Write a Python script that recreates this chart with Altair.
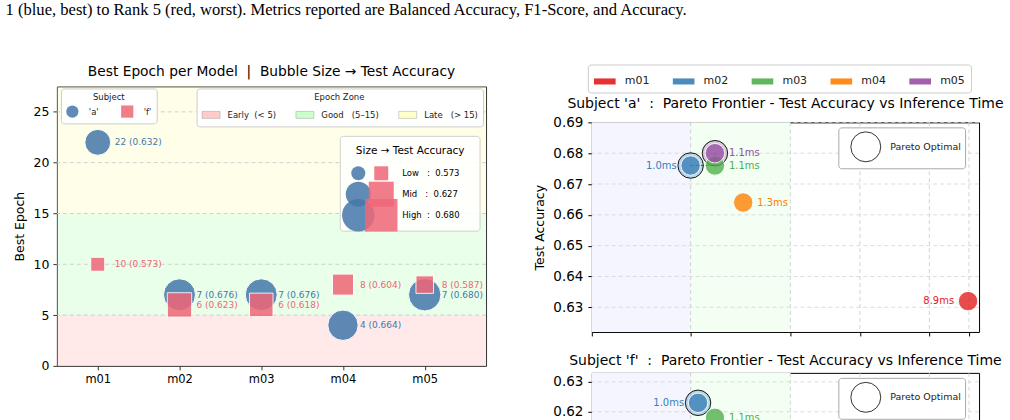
import json
import altair as alt
import pandas as pd

# ---------------- data ----------------
caption = ("1 (blue, best) to Rank 5 (red, worst). Metrics reported are "
           "Balanced Accuracy, F1-Score, and Accuracy.")
models = ["m01", "m02", "m03", "m04", "m05"]
subject_labels = ["'a'", "'f'"]

# best epoch and test accuracy per model
epoch_a = [22, 7, 7, 4, 7]
acc_a = [0.632, 0.676, 0.676, 0.664, 0.680]
epoch_f = [10, 6, 6, 8, 8]
acc_f = [0.573, 0.623, 0.618, 0.604, 0.587]

# inference time (ms)
time_a = [8.9, 1.0, 1.14, 1.34, 1.14]
time_f = [8.9, 1.04, 1.14, 1.3, 1.12]

epoch_ticks = [0, 5, 10, 15, 20, 25]
NB = "\u00a0"
zone_labels = ["Early" + NB * 2 + "(< 5)", "Good" + NB * 3 + "(5–15)", "Late" + NB * 3 + "(> 15)"]
zone_lo = [0, 5, 15]
zone_hi = [5, 15, 27.5]

size_names = ["Low", "Mid", "High"]
size_vals = [0.573, 0.627, 0.680]

time_domain = [0.624, 10.26]
time_zone_names = ["fast", "mid"]
time_zone_lo = [0.624, 1.0]
time_zone_hi = [1.0, 1.8]
time_grid = [1.0, 1.8, 3.0, 5.7, 9.0]
acc_ticks_a = [0.63, 0.64, 0.65, 0.66, 0.67, 0.68, 0.69]
acc_ticks_f = [0.57, 0.58, 0.59, 0.60, 0.61, 0.62, 0.63]

# ---------------- styles ----------------
SUBJ_COLORS = ["#4477AA", "#EE6677"]
ZONE_COLORS = ["#ff9999", "#99ff99", "#ffff99"]
MODEL_COLORS = ["#e41a1c", "#377eb8", "#4daf4a", "#ff7f00", "#984ea3"]
TZONE_COLORS = ["#f5f5ff", "#f2fff2"]

# ---------------- left chart ----------------
x_left = alt.Scale(domain=[-0.5, 4.75], nice=False, zero=False)
y_left = alt.Scale(domain=[0, 27.5], nice=False, zero=False)
size_scale = alt.Scale(domain=[0.573, 0.680], range=[196, 1056], zero=False, nice=False)

x_axis_left = alt.Axis(values=list(range(len(models))), labelExpr=json.dumps(models) + "[datum.value]",
                       title=None, grid=False, domain=False, tickSize=4, labelFontSize=11.5,
                       labelPadding=4, tickColor="#333333")
y_axis_left = alt.Axis(values=epoch_ticks, title="Best Epoch", grid=False, domain=False, tickSize=4,
                       labelFontSize=12.5, titleFontSize=12.5, titleFontWeight="normal",
                       titlePadding=7, tickColor="#333333", labelPadding=4)

pts = pd.DataFrame({
    "model": models * 2,
    "idx": list(range(len(models))) * 2,
    "subject": [subject_labels[0]] * 5 + [subject_labels[1]] * 5,
    "epoch": epoch_a + epoch_f,
    "acc": acc_a + acc_f,
})
pts["label"] = [f"{e} ({a:.3f})" for e, a in zip(pts["epoch"], pts["acc"])]

subj_legend = alt.Legend(title="Subject", orient="none", legendX=4, legendY=8, direction="horizontal",
                         titleAnchor="middle", titleFontSize=8.5, titleFontWeight="normal", titlePadding=3,
                         labelFontSize=8.5, symbolSize=150, labelOffset=10, columnPadding=22, padding=5,
                         fillColor="white", strokeColor="#cccccc", cornerRadius=3, symbolStrokeWidth=0,
                         symbolOpacity=0.85)
zone_legend = alt.Legend(title="Epoch Zone", orient="none", legendX=140, legendY=8, direction="horizontal",
                         titleAnchor="middle", titleFontSize=8.5, titleFontWeight="normal", titlePadding=3,
                         labelFontSize=8.5, symbolType="M-1,-0.39H1V0.39H-1Z", symbolSize=324,
                         symbolOpacity=0.5, symbolStrokeColor="rgba(0,0,0,0.35)", symbolStrokeWidth=1,
                         labelOffset=7, columnPadding=17, padding=5, fillColor="white",
                         strokeColor="#cccccc", cornerRadius=3)

subj_color = alt.Color("subject:N", scale=alt.Scale(domain=subject_labels, range=SUBJ_COLORS), legend=subj_legend)
subj_shape = alt.Shape("subject:N", scale=alt.Scale(domain=subject_labels, range=["circle", "square"]),
                       legend=subj_legend)

zone_df = pd.DataFrame({"zone": zone_labels, "lo": zone_lo, "hi": zone_hi})
bands = alt.Chart(zone_df).mark_rect(opacity=0.22).encode(
    x=alt.value(0), x2=alt.value("width"),
    y=alt.Y("lo:Q", scale=y_left, axis=y_axis_left), y2="hi:Q",
    fill=alt.Fill("zone:N", scale=alt.Scale(domain=zone_labels, range=ZONE_COLORS), legend=zone_legend),
)
grid_left = alt.Chart(pd.DataFrame({"yt": epoch_ticks[1:]})).mark_rule(
    color="#c4c4c4", strokeDash=[4, 3], strokeWidth=0.8).encode(
    y=alt.Y("yt:Q", scale=y_left, axis=y_axis_left))
points = alt.Chart(pts).mark_point(filled=True, opacity=0.85, stroke="white", strokeWidth=1).encode(
    x=alt.X("idx:Q", scale=x_left, axis=x_axis_left),
    y=alt.Y("epoch:Q", scale=y_left, axis=y_axis_left),
    color=subj_color, shape=subj_shape,
    size=alt.Size("acc:Q", scale=size_scale, legend=None),
)
labels_left = alt.Chart(pts).mark_text(align="left", baseline="middle", dx=17, fontSize=9).encode(
    x=alt.X("idx:Q", scale=x_left, axis=x_axis_left),
    y=alt.Y("epoch:Q", scale=y_left, axis=y_axis_left),
    text="label:N", color=subj_color,
)
main_left = alt.layer(bands, grid_left, points, labels_left)

# manual size legend
sl = pd.DataFrame({"name": size_names, "acc": size_vals, "row": list(range(len(size_names)))})
sl["text"] = [f"{n}{NB * (6 - len(n))}:{NB * 2}{v:.3f}" for n, v in zip(sl["name"], sl["acc"])]
y_sl = alt.Y("row:Q", scale=alt.Scale(domain=[0, 2], range=[87, 129]), axis=None)
one = pd.DataFrame({"k": [0]})
sl_box = alt.Chart(one).mark_rect(fill="white", stroke="#cccccc", strokeWidth=1, cornerRadius=3,
                                  opacity=0.9).encode(
    x=alt.value(284), x2=alt.value(424), y=alt.value(50), y2=alt.value(145))
sl_title = alt.Chart(one).mark_text(fontSize=10.5, align="center", baseline="middle", color="black").encode(
    x=alt.value(354), y=alt.value(65), text=alt.value("Size  →  Test Accuracy"))
sl_circ = alt.Chart(sl).mark_point(filled=True, shape="circle", opacity=0.85, color=SUBJ_COLORS[0]).encode(
    x=alt.value(302), y=y_sl, size=alt.Size("acc:Q", scale=size_scale, legend=None))
sl_sq = alt.Chart(sl).mark_point(filled=True, shape="square", opacity=0.85, color=SUBJ_COLORS[1]).encode(
    x=alt.value(325), y=y_sl, size=alt.Size("acc:Q", scale=size_scale, legend=None))
sl_txt = alt.Chart(sl).mark_text(align="left", baseline="middle", fontSize=8.5, color="black").encode(
    x=alt.value(346), y=y_sl, text="text:N")
size_leg = alt.layer(sl_box, sl_title, sl_circ, sl_sq, sl_txt)

left = alt.layer(main_left, size_leg).resolve_scale(y="independent").properties(
    width=430, height=280,
    title=alt.TitleParams("Best Epoch per Model" + NB * 2 + "|" + NB * 2 + "Bubble Size → Test Accuracy",
                          fontSize=13.8, fontWeight="normal", offset=8, anchor="middle"),
    view=alt.ViewBackground(stroke="#333333", strokeWidth=1),
)
spacer = alt.Chart(one).mark_point(opacity=0).properties(
    width=430, height=1, view=alt.ViewBackground(stroke="transparent"))
left_col = alt.vconcat(spacer, left, spacing=5, bounds="flush")

# ---------------- right charts ----------------
model_scale = alt.Scale(domain=models, range=MODEL_COLORS)
x_time = alt.Scale(type="pow", exponent=-0.4, domain=time_domain, nice=False, zero=False)


def pareto_chart(subj, times, accs, yticks, show_labels):
    df = pd.DataFrame({"model": models, "time": times, "acc": accs})
    order = sorted(range(len(models)), key=lambda i: (times[i], -accs[i]))
    best = -1.0
    par = [False] * len(models)
    for i in order:
        if accs[i] > best:
            par[i] = True
            best = accs[i]
    df["pareto"] = par
    df["key"] = "Pareto Optimal" + NB * 7
    df["label"] = [f"{t:.1f}ms" for t in times]
    df["side"] = ["left" if t in (min(times), max(times)) else "right" for t in times]
    pdf = df[df["pareto"]].sort_values("time")

    ydom = [min(accs) - 0.01, max(accs) + 0.01]
    y_sc = alt.Scale(domain=ydom, nice=False, zero=False)
    y_ax = alt.Axis(values=yticks, format=".2f", title="Test Accuracy", grid=False, domain=False,
                    tickSize=4, labelFontSize=13.5, titleFontSize=12.5, titleFontWeight="normal",
                    tickColor="black", labelPadding=5, titlePadding=6)
    x_ax = alt.Axis(values=[time_domain[0]] + time_grid, labels=show_labels, format=".1f",
                    title="Inference Time (ms)" if show_labels else None, grid=False, domain=False,
                    tickSize=4, tickColor="black", titleFontWeight="normal")
    X = alt.X("time:Q", scale=x_time, axis=x_ax)
    Y = alt.Y("acc:Q", scale=y_sc, axis=y_ax)
    mcolor = alt.Color("model:N", scale=model_scale, legend=None)

    tz = pd.DataFrame({"zone": time_zone_names, "lo": time_zone_lo, "hi": time_zone_hi})
    zones = alt.Chart(tz).mark_rect().encode(
        x=alt.X("lo:Q", scale=x_time, axis=x_ax), x2="hi:Q", y=alt.value(0), y2=alt.value("height"),
        fill=alt.Fill("zone:N", scale=alt.Scale(domain=time_zone_names, range=TZONE_COLORS), legend=None))
    vgrid = alt.Chart(pd.DataFrame({"xt": time_grid})).mark_rule(
        color="#c8c8c8", strokeDash=[4, 3], strokeWidth=0.8).encode(x=alt.X("xt:Q", scale=x_time, axis=x_ax))
    hgrid = alt.Chart(pd.DataFrame({"yt": yticks})).mark_rule(
        color="#d4d4d4", strokeDash=[4, 3], strokeWidth=0.8).encode(y=alt.Y("yt:Q", scale=y_sc, axis=y_ax))
    step = alt.Chart(pdf).mark_line(interpolate="step-after", color="#333333", strokeWidth=1,
                                    strokeDash=[3, 2], opacity=0.8).encode(x=X, y=Y, order="time:Q")
    pareto_legend = alt.Legend(title=None, orient="none", legendX=247, legendY=5, symbolType="circle",
                               symbolSize=900, symbolFillColor="white", symbolStrokeWidth=0.8,
                               symbolOpacity=1, labelFontSize=9.5, labelOffset=9, padding=4,
                               symbolOffset=8, fillColor="white", strokeColor="#aaaaaa", cornerRadius=3)
    rings = alt.Chart(pdf).mark_point(filled=True, shape="circle", size=650, fillOpacity=0.3,
                                      strokeWidth=1, strokeOpacity=0.9).encode(
        x=X, y=Y, color=mcolor,
        stroke=alt.Stroke("key:N", scale=alt.Scale(range=["black"]), legend=pareto_legend))
    dots = alt.Chart(df).mark_point(filled=True, size=380, opacity=0.78, stroke="white", strokeWidth=1).encode(
        x=X, y=Y, color=mcolor)
    lab_r = alt.Chart(df).transform_filter("datum.side == 'right'").mark_text(
        align="left", baseline="middle", dx=14, fontSize=10).encode(x=X, y=Y, text="label:N", color=mcolor)
    lab_l = alt.Chart(df).transform_filter("datum.side == 'left'").mark_text(
        align="right", baseline="middle", dx=-14, fontSize=10).encode(x=X, y=Y, text="label:N", color=mcolor)

    return alt.layer(zones, vgrid, hgrid, step, rings, dots, lab_r, lab_l).properties(
        width=388, height=210,
        title=alt.TitleParams(f"Subject {subj}" + NB * 2 + ":" + NB * 2 +
                              "Pareto Frontier - Test Accuracy vs Inference Time",
                              fontSize=14, fontWeight="normal", offset=4, anchor="middle"),
        view=alt.ViewBackground(stroke="black", strokeWidth=1),
    )


model_legend = alt.Legend(title=None, orient="none", legendX=-4, legendY=-16, direction="horizontal",
                          symbolType="M-1,-0.28H1V0.28H-1Z", symbolSize=470, symbolOpacity=0.9,
                          symbolStrokeWidth=0, labelFontSize=11, labelOffset=9, columnPadding=23,
                          padding=6, fillColor="white", strokeColor="#cccccc", cornerRadius=3)
mini = alt.Chart(pd.DataFrame({"model": models})).mark_point(filled=True, opacity=0).encode(
    color=alt.Color("model:N", scale=model_scale, legend=model_legend)
).properties(width=388, height=1, view=alt.ViewBackground(stroke="transparent"))

chart_a = pareto_chart(subject_labels[0], time_a, acc_a, acc_ticks_a, False)
chart_f = pareto_chart(subject_labels[1], time_f, acc_f, acc_ticks_f, True)

right_col = alt.vconcat(mini, chart_a, chart_f, spacing=41, bounds="flush").resolve_scale(
    color="independent", fill="independent", stroke="independent").resolve_legend(
    color="independent", stroke="independent")

chart = alt.hconcat(left_col, right_col, spacing=46).resolve_scale(
    color="independent", fill="independent", size="independent", shape="independent",
    stroke="independent").properties(
    title=alt.TitleParams(caption, anchor="start", font="Liberation Serif", fontSize=16.6,
                          fontWeight="normal", color="black", offset=45, dx=-7),
    padding={"left": 5, "top": 1, "right": 5, "bottom": 5},
).configure(font="DejaVu Sans").configure_axis(
    labelColor="black", titleColor="black").configure_legend(
    labelColor="#222222", titleColor="#222222").configure_title(color="black")

chart.save("out.html", embed_options={"renderer": "svg", "actions": False})
